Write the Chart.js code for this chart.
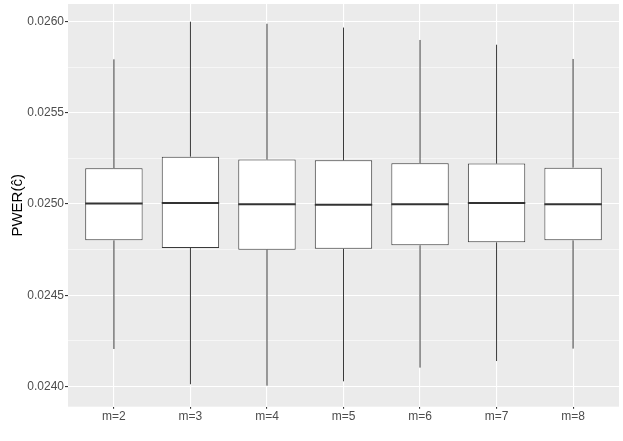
<!DOCTYPE html>
<html>
<head>
<meta charset="utf-8">
<script src="https://cdn.jsdelivr.net/npm/chart.js@4"></script>
<style>
    body { margin: 0; background: #ffffff; }
    #wrap { width: 623px; height: 441px; }
</style>
</head>
<body>
<div id="wrap"><canvas id="box-chart" width="623" height="441"></canvas></div>
<script>
// Dados (boxplots por m)
const categories = ['m=2', 'm=3', 'm=4', 'm=5', 'm=6', 'm=7', 'm=8'];
const whiskerLow = [0.024206, 0.024013, 0.024005, 0.024029, 0.024104, 0.024140, 0.024208];
const q1 = [0.024801, 0.024759, 0.024750, 0.024755, 0.024774, 0.024790, 0.024801];
const median = [0.025002, 0.025005, 0.024998, 0.024996, 0.024998, 0.025005, 0.024998];
const q3 = [0.025196, 0.025259, 0.025243, 0.025239, 0.025223, 0.025221, 0.025199];
const whiskerHigh = [0.025792, 0.025998, 0.025987, 0.025966, 0.025898, 0.025872, 0.025794];

// Marcas do eixo y
const yMajorTicks = [0.0240, 0.0245, 0.0250, 0.0255, 0.0260];
const yMinorTicks = [0.02425, 0.02475, 0.02525, 0.02575];

const FONT = "'Liberation Sans', Arial, sans-serif";
const majorSet = new Set(yMajorTicks);

// Fundo cinza do painel (estilo ggplot)
const panelBackground = {
    id: 'panelBackground',
    beforeDraw(chart) {
        const { ctx, chartArea } = chart;
        ctx.save();
        ctx.fillStyle = '#EBEBEB';
        ctx.fillRect(chartArea.left, chartArea.top, chartArea.right - chartArea.left, chartArea.bottom - chartArea.top);
        ctx.restore();
    }
};

// Bigodes e mediana desenhados com as escalas do gráfico
const boxExtras = {
    id: 'boxExtras',
    afterDatasetsDraw(chart) {
        const { ctx } = chart;
        const xs = chart.scales.x;
        const ys = chart.scales.y;
        const meta = chart.getDatasetMeta(0);
        ctx.save();
        categories.forEach((c, i) => {
            const x = xs.getPixelForValue(i);
            ctx.strokeStyle = '#3a3a3a';
            ctx.lineWidth = 1;
            ctx.beginPath();
            ctx.moveTo(x, ys.getPixelForValue(whiskerHigh[i]));
            ctx.lineTo(x, ys.getPixelForValue(q3[i]));
            ctx.moveTo(x, ys.getPixelForValue(q1[i]));
            ctx.lineTo(x, ys.getPixelForValue(whiskerLow[i]));
            ctx.stroke();

            const half = meta.data[i].width / 2;
            const ym = ys.getPixelForValue(median[i]);
            ctx.strokeStyle = '#333333';
            ctx.lineWidth = 2;
            ctx.beginPath();
            ctx.moveTo(x - half, ym);
            ctx.lineTo(x + half, ym);
            ctx.stroke();
        });
        ctx.restore();
    }
};

// Remove o espaço extra que o Chart.js reserva para os rótulos nas bordas
function noEdgePadding(scale) {
    scale.paddingTop = 0;
    scale.paddingBottom = 0;
    scale.paddingLeft = 0;
    scale.paddingRight = 0;
}

const ctx = document.getElementById('box-chart').getContext('2d');
new Chart(ctx, {
    type: 'bar',
    data: {
        datasets: [{
            label: 'IQR',
            data: categories.map((c, i) => ({ x: i, y: [q1[i], q3[i]] })),
            backgroundColor: '#ffffff',
            borderColor: '#3a3a3a',
            borderWidth: 1,
            borderSkipped: false,
            barPercentage: 0.75,
            categoryPercentage: 1
        }]
    },
    options: {
        responsive: false,
        animation: false,
        layout: { padding: { left: 0, top: 4, right: 4, bottom: 0 } },
        plugins: {
            legend: { display: false },
            tooltip: { enabled: false }
        },
        scales: {
            x: {
                type: 'linear',
                offset: false,
                min: -0.6,
                max: 6.6,
                afterBuildTicks(scale) {
                    scale.ticks = categories.map((c, i) => ({ value: i }));
                },
                afterFit(scale) {
                    scale.height = 34.3;
                    noEdgePadding(scale);
                },
                border: { display: false },
                grid: {
                    offset: false,
                    color: '#ffffff',
                    lineWidth: 1.1,
                    tickColor: '#333333',
                    tickLength: 2
                },
                ticks: {
                    padding: 1,
                    color: '#4D4D4D',
                    font: { family: FONT, size: 12 },
                    callback: (v) => categories[v]
                }
            },
            y: {
                type: 'linear',
                min: 0.02389,
                max: 0.026095,
                afterBuildTicks(scale) {
                    scale.ticks = yMajorTicks.concat(yMinorTicks)
                        .sort((a, b) => a - b)
                        .map(v => ({ value: v }));
                },
                afterFit(scale) {
                    scale.width = 68;
                    noEdgePadding(scale);
                },
                border: { display: false },
                grid: {
                    color: '#ffffff',
                    lineWidth: (c) => majorSet.has(c.tick.value) ? 1.1 : 0.55,
                    tickColor: (c) => majorSet.has(c.tick.value) ? '#333333' : 'rgba(0,0,0,0)',
                    tickLength: 3
                },
                ticks: {
                    padding: 1,
                    color: '#4D4D4D',
                    font: { family: FONT, size: 12 },
                    callback: (v) => majorSet.has(v) ? v.toFixed(4) : ''
                },
                title: {
                    display: true,
                    text: 'PWER(ĉ)',
                    color: '#000000',
                    font: { family: FONT, size: 15 },
                    padding: { top: 9, bottom: 0 }
                }
            }
        }
    },
    plugins: [panelBackground, boxExtras]
});
</script>
</body>
</html>
